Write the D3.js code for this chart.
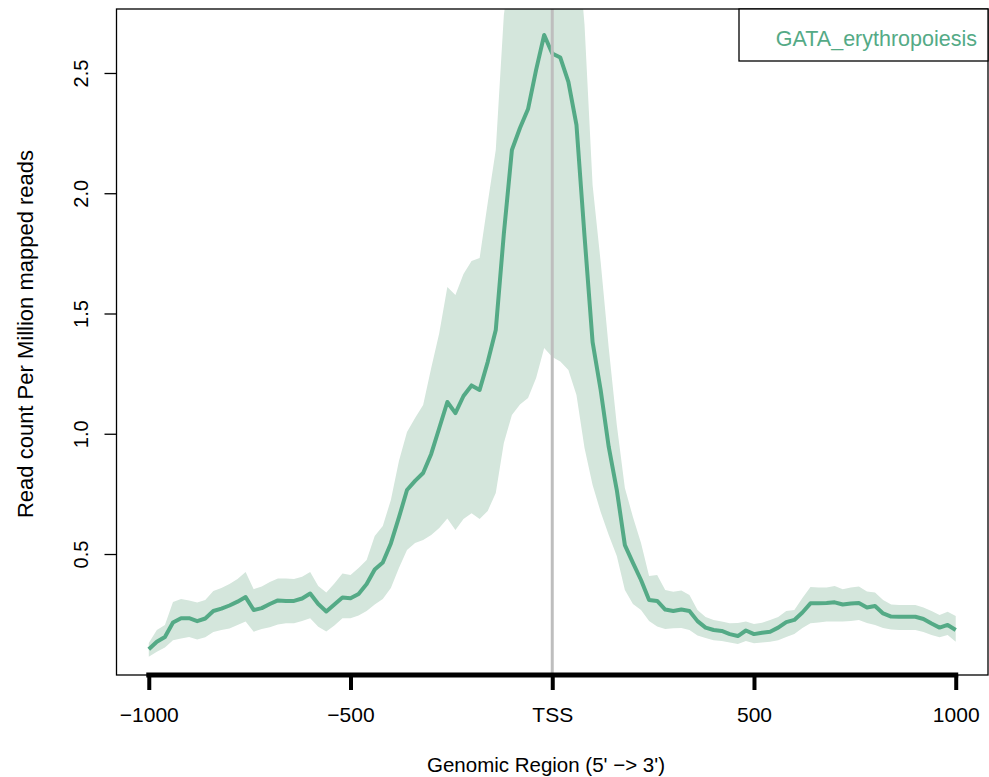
<!DOCTYPE html>
<html>
<head>
<meta charset="utf-8">
<script src="https://cdn.jsdelivr.net/npm/d3@7"></script>
<style>
  html, body { margin: 0; padding: 0; background: #ffffff; }
  svg { display: block; font-family: "Liberation Sans", Arial, Helvetica, sans-serif; }
</style>
</head>
<body>
<svg id="chart" width="989" height="777"></svg>
<script>
// ---- data ----
const positions = d3.range(-1000, 1001, 20); // bin positions (bp relative to TSS)
const meanValues = [0.104,0.135,0.155,0.215,0.233,0.233,0.221,0.232,0.263,0.273,
  0.286,0.302,0.321,0.267,0.275,0.292,0.307,0.305,0.305,0.315,
  0.336,0.292,0.261,0.290,0.319,0.316,0.334,0.375,0.436,0.465,
  0.544,0.652,0.766,0.804,0.837,0.916,1.024,1.132,1.086,1.157,
  1.201,1.182,1.298,1.431,1.831,2.180,2.271,2.350,2.513,2.658,
  2.581,2.564,2.463,2.284,1.822,1.381,1.182,0.945,0.766,0.537,
  0.463,0.392,0.309,0.305,0.269,0.263,0.269,0.263,0.221,0.194,
  0.184,0.180,0.167,0.159,0.182,0.167,0.173,0.177,0.194,0.217,
  0.226,0.257,0.295,0.295,0.296,0.299,0.290,0.294,0.296,0.278,
  0.284,0.253,0.240,0.239,0.239,0.239,0.230,0.211,0.194,0.205,
  0.184];
const upperValues = [0.130,0.184,0.205,0.300,0.313,0.307,0.298,0.309,0.346,0.359,
  0.375,0.396,0.425,0.354,0.365,0.384,0.398,0.398,0.396,0.406,
  0.425,0.367,0.340,0.377,0.419,0.413,0.442,0.475,0.575,0.616,
  0.725,0.887,1.007,1.066,1.120,1.273,1.419,1.610,1.577,1.664,
  1.718,1.731,1.959,2.180,2.740,3.000,3.200,3.400,3.600,3.800,
  3.800,3.600,3.400,3.100,2.700,2.034,1.714,1.357,1.036,0.774,
  0.654,0.546,0.409,0.413,0.350,0.343,0.348,0.330,0.267,0.238,
  0.226,0.219,0.212,0.213,0.219,0.209,0.214,0.226,0.238,0.263,
  0.267,0.317,0.363,0.361,0.361,0.367,0.354,0.361,0.365,0.344,
  0.340,0.309,0.290,0.288,0.288,0.288,0.278,0.263,0.246,0.260,
  0.242];
const lowerValues = [0.073,0.094,0.111,0.142,0.149,0.155,0.145,0.154,0.176,0.184,
  0.190,0.205,0.219,0.177,0.188,0.196,0.207,0.212,0.212,0.221,
  0.233,0.198,0.178,0.203,0.233,0.233,0.244,0.263,0.290,0.313,
  0.359,0.442,0.517,0.546,0.558,0.579,0.608,0.648,0.600,0.646,
  0.670,0.646,0.679,0.754,0.962,1.078,1.122,1.149,1.232,1.357,
  1.319,1.300,1.265,1.161,0.941,0.787,0.675,0.579,0.492,0.350,
  0.292,0.267,0.221,0.199,0.188,0.191,0.192,0.184,0.161,0.151,
  0.142,0.138,0.132,0.126,0.138,0.129,0.132,0.135,0.142,0.155,
  0.167,0.192,0.212,0.215,0.219,0.219,0.219,0.221,0.226,0.213,
  0.205,0.192,0.186,0.184,0.184,0.184,0.176,0.163,0.154,0.163,
  0.135];
const xTickValues = [-1000, -500, 0, 500, 1000];
const xTickLabels = ["\u22121000", "\u2212500", "TSS", "500", "1000"];
const yTickValues = [0.5, 1.0, 1.5, 2.0, 2.5];
const yTickLabels = ["0.5", "1.0", "1.5", "2.0", "2.5"];
const seriesName = "GATA_erythropoiesis";
const xTitle = "Genomic Region (5' \u2212> 3')";
const yTitle = "Read count Per Million mapped reads";

// ---- layout ----
const plot = { left: 116.5, right: 988, top: 9, bottom: 675 };
const lineColor = "#54aa86";
const bandColor = "#d4e6dc";

const svg = d3.select("#chart");
svg.append("rect").attr("width", 989).attr("height", 777).attr("fill", "#fff");

const x = d3.scaleLinear().domain([-1080, 1080]).range([plot.left, plot.right]);
const y = d3.scaleLinear().domain([-0.003, 2.766]).range([plot.bottom, plot.top]);

const data = positions.map((p, i) => ({ p, m: meanValues[i], u: upperValues[i], l: lowerValues[i] }));

svg.append("defs").append("clipPath").attr("id", "clip")
  .append("rect")
  .attr("x", plot.left).attr("y", plot.top)
  .attr("width", plot.right - plot.left).attr("height", plot.bottom - plot.top);

const g = svg.append("g").attr("clip-path", "url(#clip)");

g.append("path")
  .datum(data)
  .attr("fill", bandColor)
  .attr("d", d3.area().x(d => x(d.p)).y0(d => y(d.l)).y1(d => y(d.u)));

g.append("path")
  .datum(data)
  .attr("fill", "none")
  .attr("stroke", lineColor)
  .attr("stroke-width", 4)
  .attr("stroke-linejoin", "round")
  .attr("d", d3.line().x(d => x(d.p)).y(d => y(d.m)));

// TSS vertical line
g.append("line")
  .attr("x1", x(0)).attr("x2", x(0))
  .attr("y1", plot.top).attr("y2", plot.bottom)
  .attr("stroke", "#bebebe").attr("stroke-width", 3);

// plot box
svg.append("rect")
  .attr("x", plot.left).attr("y", plot.top)
  .attr("width", plot.right - plot.left).attr("height", plot.bottom - plot.top)
  .attr("fill", "none").attr("stroke", "#000").attr("stroke-width", 1.3);

// x axis (thick)
const xAxis = d3.axisBottom(x)
  .tickValues(xTickValues)
  .tickFormat((d, i) => xTickLabels[i])
  .tickSize(15)
  .tickPadding(17)
  .tickSizeOuter(0);
const gx = svg.append("g").attr("transform", `translate(0,${plot.bottom})`).call(xAxis);
gx.select(".domain").remove();
gx.selectAll(".tick line").attr("stroke", "#000").attr("stroke-width", 4);
gx.append("line")
  .attr("x1", x(-1000)).attr("x2", x(1000))
  .attr("y1", 0).attr("y2", 0)
  .attr("stroke", "#000").attr("stroke-width", 5).attr("stroke-linecap", "square");
gx.selectAll(".tick text")
  .attr("fill", "#000")
  .style("font-size", "21px")
  .style("font-family", "'Liberation Sans', Arial, sans-serif");

// y axis
const yAxis = d3.axisLeft(y)
  .tickValues(yTickValues)
  .tickFormat((d, i) => yTickLabels[i])
  .tickSize(12)
  .tickSizeOuter(0);
const gy = svg.append("g").attr("transform", `translate(${plot.left},0)`).call(yAxis);
gy.select(".domain").remove();
gy.selectAll(".tick line").attr("stroke", "#000").attr("stroke-width", 1.3);
gy.selectAll(".tick text")
  .attr("fill", "#000")
  .attr("x", null).attr("dy", null)
  .attr("text-anchor", "middle")
  .attr("transform", "translate(-29,0) rotate(-90)")
  .attr("y", 0)
  .style("font-size", "20px")
  .style("font-family", "'Liberation Sans', Arial, sans-serif");

// titles
svg.append("text")
  .attr("x", 546).attr("y", 772)
  .attr("text-anchor", "middle")
  .style("font-size", "20.5px")
  .text(xTitle);
svg.append("text")
  .attr("transform", "translate(33,334) rotate(-90)")
  .attr("text-anchor", "middle")
  .style("font-size", "22px")
  .text(yTitle);

// legend
svg.append("rect")
  .attr("x", 739).attr("y", plot.top)
  .attr("width", plot.right - 739).attr("height", 52)
  .attr("fill", "#fff").attr("stroke", "#000").attr("stroke-width", 1.3);
svg.append("text")
  .attr("x", 977).attr("y", 46)
  .attr("text-anchor", "end")
  .attr("fill", lineColor)
  .style("font-size", "21.5px")
  .text(seriesName);
</script>
</body>
</html>
